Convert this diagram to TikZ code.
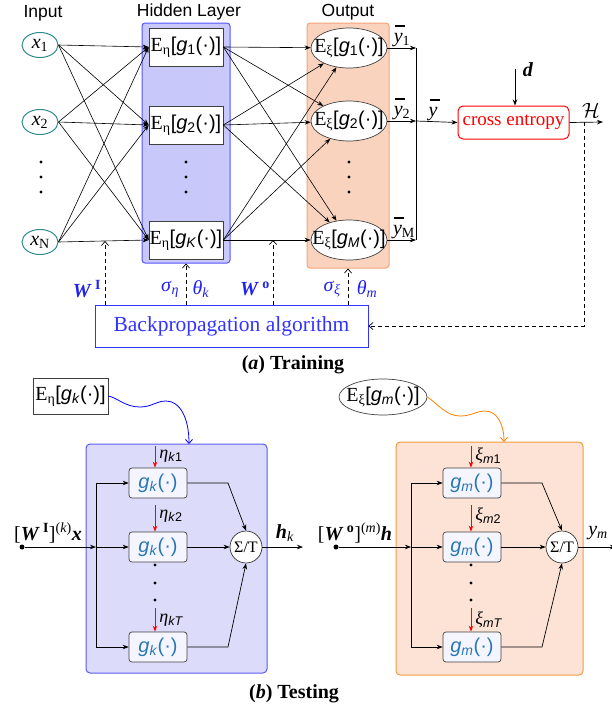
\documentclass[tikz,border=0pt]{standalone}
\usepackage{fontspec}
\setmainfont{Liberation Serif}
\setsansfont{Liberation Sans}
\usetikzlibrary{arrows.meta,shapes.geometric}
\definecolor{tealc}{HTML}{2E8B8B}
\definecolor{hidfill}{HTML}{C8C8FA}
\definecolor{hiddraw}{HTML}{5555FF}
\definecolor{outfill}{HTML}{FAD3BF}
\definecolor{outdraw}{HTML}{F4A378}
\definecolor{labblue}{HTML}{2020F0}
\definecolor{gcol}{HTML}{2878B4}
\definecolor{bfill}{HTML}{DCDCFA}
\definecolor{bdraw}{HTML}{5A5AF0}
\definecolor{ofill}{HTML}{FDE3D5}
\definecolor{odraw}{HTML}{F79A3C}
\definecolor{bpblue}{HTML}{3333FF}
\newcommand{\Eeta}{E\textsubscript{η}}
\newcommand{\Exi}{E\textsubscript{ξ}}
\newcommand{\gsf}[1]{{\sffamily[\textit{g}\textsubscript{#1}(·)]}}
\newcommand{\gin}[1]{{\sffamily\textit{g}\textsubscript{\textit{#1}}(·)}}
\newcommand{\ybar}{\makebox[0pt][l]{\hspace{0.06em}\rule[0.78em]{0.5em}{0.055em}}\textit{y}}
\begin{document}
\begin{tikzpicture}[x=1pt,y=-1pt, line width=0.7pt,
  arr/.style={-{Stealth[length=6pt,width=4.5pt]}},
  barb/.style={-{Straight Barb[length=4pt,width=7pt]}},
  dasharr/.style={dashed,dash pattern=on 4pt off 3pt,barb},
  f20/.style={font=\fontsize{20}{22}\selectfont},
  sanslab/.style={font=\sffamily\fontsize{17.5}{20}\selectfont},
  inell/.style={ellipse, draw=tealc, line width=1pt, minimum width=36, minimum height=25, inner sep=0, f20},
  hnode/.style={rectangle, draw=black!75, fill=white, minimum width=74, minimum height=38, inner sep=0, f20},
  onode/.style={ellipse, draw=black!75, fill=white, minimum width=76, minimum height=40, inner sep=0},
  otext/.style={inner sep=0, f20},
  hidbox/.style={rectangle, rounded corners=3, draw=hiddraw, fill=hidfill, line width=1pt},
  outbox/.style={rectangle, rounded corners=3, draw=outdraw, fill=outfill, line width=1pt},
  bluelab/.style={text=labblue, font=\fontsize{20}{22}\selectfont},
  dotn/.style={circle, fill=black, inner sep=0, minimum size=3.2},
  gbox/.style={rectangle, rounded corners=3, draw=black!75, fill=white!96!blue, minimum width=58, minimum height=30, inner sep=0, text=gcol, f20},
  sumc/.style={circle, draw=black!80, fill=white, minimum size=32, inner sep=0, font=\fontsize{16}{18}\selectfont},
  redarr/.style={red, line width=1pt, -{Stealth[length=6pt,width=4.5pt]}},
  smalllab/.style={font=\fontsize{18}{20}\selectfont, inner sep=0, anchor=west}
]
\useasboundingbox (0,0) rectangle (611,712);
% ---------- (a) Training ----------
\node[sanslab] (inputlab) at (43,13) {Input};
\node[sanslab] (hidlab) at (189,12) {Hidden Layer};
\node[sanslab] (outlab) at (348,12) {Output};
\node[hidbox, minimum width=88, minimum height=240] (hbox) at (186,143) {};
\node[outbox, minimum width=82, minimum height=245] (obox) at (348,145.5) {};
% inputs
\node[inell] (x1) at (40,45) {\textit{x}\textsubscript{1}};
\node[inell] (x2) at (40,122) {\textit{x}\textsubscript{2}};
\node[inell] (xN) at (40,242) {\textit{x}\textsubscript{N}};
\node[dotn] (xd1) at (41,162) {};
\node[dotn] (xd2) at (41,177) {};
\node[dotn] (xd3) at (41,192) {};
% hidden
\node[hnode] (h1) at (186,47) {\Eeta\gsf{1}};
\node[hnode] (h2) at (186,125) {\Eeta\gsf{2}};
\node[hnode] (hK) at (186,240) {\Eeta\gsf{\textit{K}}};
\node[dotn] (hd1) at (186,162) {};
\node[dotn] (hd2) at (186,177) {};
\node[dotn] (hd3) at (186,192) {};
% outputs
\node[onode] (o1) at (349,48) {};
\node[otext] (o1t) at (o1) {\Exi\gsf{1}};
\node[onode] (o2) at (349,121) {};
\node[otext] (o2t) at (o2) {\Exi\gsf{2}};
\node[onode] (oM) at (349,240) {};
\node[otext] (oMt) at (oM) {\Exi\gsf{\textit{M}}};
\node[dotn] (od1) at (349,162) {};
\node[dotn] (od2) at (349,177) {};
\node[dotn] (od3) at (349,192) {};
% input -> hidden
\foreach \a in {x1,x2,xN}{
  \foreach \b in {h1,h2,hK}{
    \draw[arr, line width=0.6pt] (\a.east) -- (\b.west);
  }
}
% hidden -> output
\foreach \a in {h1,h2,hK}{
  \foreach \b in {o1,o2,oM}{
    \draw[arr, line width=0.6pt] (\a.east) -- (\b);
  }
}
% outputs to junction
\coordinate (j1) at (416,48);
\coordinate (j2) at (416,121);
\coordinate (j3) at (416,240);
\draw[arr] (o1.east) -- (j1);
\draw[arr] (o2.east) -- (j2);
\draw[arr] (oM.east) -- (j3);
\draw (j1) -- (j3);
\node[f20, inner sep=0] (y1l) at (402,36) {\ybar\textsubscript{1}};
\node[f20, inner sep=0] (y2l) at (402,109) {\ybar\textsubscript{2}};
\node[f20, inner sep=0] (yMl) at (404,228) {\ybar\textsubscript{M}};
% cross entropy
\node[rectangle, rounded corners=5, draw=red, line width=1pt, text=red, minimum width=111, minimum height=33, inner sep=0, font=\fontsize{19}{21}\selectfont] (ce) at (513.5,122.5) {cross entropy};
\draw[arr] (j2) -- (ce.west);
\node[f20, inner sep=0] (ybl) at (433,110) {\ybar};
\coordinate (dtop) at (515,69);
\draw[arr] (dtop) -- (dtop |- ce.north);
\node[f20, inner sep=0] (dl) at (528,70) {\textbf{\textit{d}}};
\coordinate (hend) at (603,122);
\draw[arr] (ce.east) -- (hend);
\node[inner sep=0, font=\fontsize{20}{22}\selectfont] (Hl) at (591,110) {$\mathcal{H}$};
% backprop
\node[rectangle, draw=bpblue, line width=1pt, text=bpblue, minimum width=273, minimum height=42, inner sep=0, font=\fontsize{21.5}{23}\selectfont] (bp) at (231.5,326) {Backpropagation algorithm};
\coordinate (hd) at (584,122);
\draw[dashed, dash pattern=on 4pt off 3pt, barb] (hd) |- (bp.east);
\coordinate (wi) at (105,241);
\coordinate (wo) at (273,240);
\draw[dasharr] (bp.north -| wi) -- (wi);
\draw[dasharr] (bp.north -| hbox.south) -- (hbox.south);
\draw[dasharr] (bp.north -| wo) -- (wo);
\draw[dasharr] (bp.north -| obox.south) -- (obox.south);
\node[bluelab] (wil) at (87,289) {\textbf{\textit{W}}\,\textsuperscript{\textbf{I}}};
\node[bluelab] (sel) at (170,289) {\textit{σ}\textsubscript{\textit{η}}};
\node[bluelab] (thk) at (201,289) {\textit{θ}\textsubscript{\textit{k}}};
\node[bluelab] (wol) at (255,289) {\textbf{\textit{W}}\,\textsuperscript{\textbf{o}}};
\node[bluelab] (sxl) at (332,289) {\textit{σ}\textsubscript{\textit{ξ}}};
\node[bluelab] (thm) at (367,289) {\textit{θ}\textsubscript{\textit{m}}};
\node[font=\bfseries\fontsize{20}{22}\selectfont] (capa) at (293,365) {(\textit{a}) Training};
% ---------- (b) Testing ----------
\node[rectangle, draw=black!75, fill=white, minimum width=75, minimum height=36, inner sep=0, f20] (etab) at (70.5,396) {\Eeta\gsf{\textit{k}}};
\node[ellipse, draw=black!75, fill=white, minimum width=88, minimum height=36, inner sep=0] (xiell) at (383,397) {};
\node[otext] (xit) at (xiell) {\Exi\gsf{\textit{m}}};
\node[rectangle, rounded corners=4, draw=bdraw, fill=bfill, line width=1pt, minimum width=181, minimum height=229, inner sep=0] (bbox) at (176.5,558.5) {};
\node[rectangle, rounded corners=4, draw=odraw, fill=ofill, line width=1pt, minimum width=187, minimum height=233, inner sep=0] (ob) at (489.5,558.5) {};
\coordinate (bt) at (189,444);
\coordinate (ot) at (504,442);
\draw[blue, line width=0.8pt, barb] (etab.east) .. controls (118,398) and (125,407) .. (140,407) .. controls (152,407) and (156,401) .. (166,401) .. controls (180,401) and (189,418) .. (bt);
\draw[orange, line width=0.8pt, barb] (xiell.east) .. controls (438,404) and (446,416) .. (460,416) .. controls (472,416) and (476,411) .. (485,411) .. controls (497,411) and (504,424) .. (ot);
% left module
\node[gbox] (g1) at (158,483) {\gin{k}};
\node[gbox] (g2) at (158,547) {\gin{k}};
\node[gbox] (g3) at (158,647) {\gin{k}};
\node[sumc] (s1) at (246,547) {Σ/T};
\node[dotn] (gd1) at (155,565) {};
\node[dotn] (gd2) at (155,583) {};
\node[dotn] (gd3) at (155,600) {};
\node[circle, fill=black, inner sep=0, minimum size=5] (in1) at (22,547) {};
\coordinate (v1) at (96,547);
\draw[arr] (in1) -- (v1);
\draw (v1 |- g1) -- (v1 |- g3);
\draw[arr] (v1 |- g1) -- (g1.west);
\draw[arr] (v1) -- (g2.west);
\draw[arr] (v1 |- g3) -- (g3.west);
\coordinate (c1) at (228,483);
\coordinate (c3) at (228,647);
\draw[arr] (g1.east) -- (c1) -- (s1.north);
\draw[arr] (g2.east) -- (s1.west);
\draw[arr] (g3.east) -- (c3) -- (s1.south);
\coordinate (hk) at (303,547);
\draw[arr] (s1.east) -- (hk);
\node[f20, inner sep=0] (hkl) at (285,533) {\textbf{\textit{h}}\textsubscript{\textit{k}}};
\node[f20, inner sep=0] (wxl) at (48,533) {[\textbf{\textit{W}}\,\textsuperscript{\textbf{I}}]\textsuperscript{(\textit{k})}\textbf{\textit{x}}};
\coordinate (ra1) at (155,446);
\coordinate (ra2) at (155,505);
\coordinate (ra3) at (155,608);
\draw[redarr] (ra1) -- (ra1 |- g1.north);
\draw[redarr] (ra2) -- (ra2 |- g2.north);
\draw[redarr] (ra3) -- (ra3 |- g3.north);
\node[smalllab] (e1) at (159,456) {\textit{η}\textsubscript{\sffamily\textit{k}1}};
\node[smalllab] (e2) at (159,516) {\textit{η}\textsubscript{\sffamily\textit{k}2}};
\node[smalllab] (e3) at (159,620) {\textit{η}\textsubscript{\sffamily\textit{kT}}};
% right module
\node[gbox] (m1) at (472,483) {\gin{m}};
\node[gbox] (m2) at (472,547) {\gin{m}};
\node[gbox] (m3) at (472,647) {\gin{m}};
\node[sumc] (s2) at (562,547) {Σ/T};
\node[dotn] (md1) at (471,565) {};
\node[dotn] (md2) at (471,583) {};
\node[dotn] (md3) at (471,600) {};
\node[circle, fill=black, inner sep=0, minimum size=5] (in2) at (336,547) {};
\coordinate (v2) at (411,547);
\draw[arr] (in2) -- (v2);
\draw (v2 |- m1) -- (v2 |- m3);
\draw[arr] (v2 |- m1) -- (m1.west);
\draw[arr] (v2) -- (m2.west);
\draw[arr] (v2 |- m3) -- (m3.west);
\coordinate (c4) at (542,483);
\coordinate (c6) at (542,647);
\draw[arr] (m1.east) -- (c4) -- (s2.north);
\draw[arr] (m2.east) -- (s2.west);
\draw[arr] (m3.east) -- (c6) -- (s2.south);
\coordinate (ym) at (616,547);
\draw[arr] (s2.east) -- (ym);
\node[f20, inner sep=0] (yml) at (598,533) {\textit{y}\textsubscript{\textit{m}}};
\node[f20, inner sep=0] (whl) at (355,533) {[\textbf{\textit{W}}\,\textsuperscript{\textbf{o}}]\textsuperscript{(\textit{m})}\textbf{\textit{h}}};
\coordinate (rb1) at (471,446);
\coordinate (rb2) at (471,505);
\coordinate (rb3) at (471,608);
\draw[redarr] (rb1) -- (rb1 |- m1.north);
\draw[redarr] (rb2) -- (rb2 |- m2.north);
\draw[redarr] (rb3) -- (rb3 |- m3.north);
\node[smalllab] (f1) at (475,456) {\textit{ξ}\textsubscript{\sffamily\textit{m}1}};
\node[smalllab] (f2) at (475,516) {\textit{ξ}\textsubscript{\sffamily\textit{m}2}};
\node[smalllab] (f3) at (475,620) {\textit{ξ}\textsubscript{\sffamily\textit{mT}}};
\node[font=\bfseries\fontsize{20}{22}\selectfont] (capb) at (294,694) {(\textit{b}) Testing};
\end{tikzpicture}
\end{document}
